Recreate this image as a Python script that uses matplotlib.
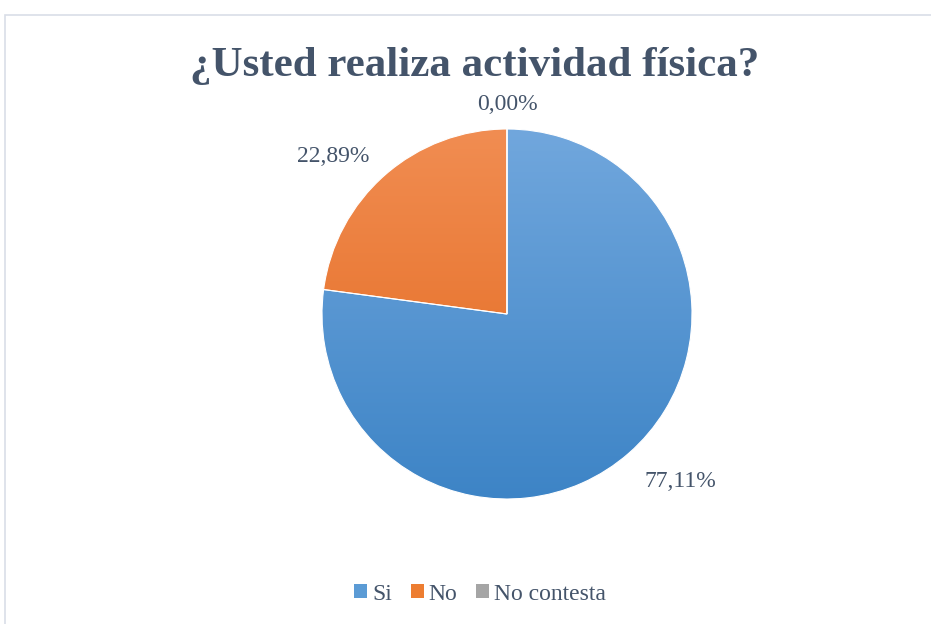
import numpy as np
import matplotlib
matplotlib.use("Agg")
import matplotlib.pyplot as plt
from matplotlib.colors import LinearSegmentedColormap
from matplotlib.patches import Patch, Rectangle

plt.rcParams['font.family'] = ['Liberation Serif', 'DejaVu Serif']

categories = ["Si", "No", "No contesta"]
percentages = [77.11, 22.89, 0.00]

# light (top) -> dark (bottom) shades for each slice, plus a flat legend colour
top_colors = ["#71A7DD", "#F18D52", "#B4B4B4"]
bottom_colors = ["#3D84C6", "#E2661A", "#959595"]
legend_colors = ["#5B9BD5", "#ED7D31", "#A5A5A5"]
text_color = "#44546A"

W, H = 931, 624
fig = plt.figure(figsize=(W / 100, H / 100), dpi=100)
fig.patch.set_facecolor("white")

# chart area frame (runs off the right and bottom edges)
fig.patches.append(Rectangle((5 / W, -0.1), 2, (H - 15) / H + 0.1,
                             transform=fig.transFigure, fill=False,
                             edgecolor="#D9DEE7", linewidth=1.2))

fig.text(475 / W, 1 - 66 / H, "¿Usted realiza actividad física?",
         ha="center", va="center", fontsize=31, fontweight="bold",
         color=text_color)

# pie centred at (507, 314) px, radius 185 px
cx, cy, r = 507, 314, 185
half = 200
ax = fig.add_axes([(cx - half) / W, (H - cy - half) / H, 2 * half / W, 2 * half / H])

wedges, _ = ax.pie(percentages, startangle=90, counterclock=False, radius=1,
                   colors=legend_colors,
                   wedgeprops=dict(edgecolor="white", linewidth=0.8))

grad = np.linspace(0, 1, 256).reshape(-1, 1)
for w, c0, c1 in zip(wedges, top_colors, bottom_colors):
    cmap = LinearSegmentedColormap.from_list("g", [c0, c1])
    img = ax.imshow(grad, cmap=cmap, extent=[-1, 1, -1, 1], origin="upper",
                    aspect="auto", zorder=1, interpolation="bilinear")
    img.set_clip_path(w)
    w.set_facecolor("none")
    w.set_zorder(2)

# percentage labels just outside each slice
for w, p in zip(wedges, percentages):
    mid = np.deg2rad((w.theta1 + w.theta2) / 2)
    x, y = 1.13 * np.cos(mid), 1.13 * np.sin(mid)
    ha = "center" if abs(np.cos(mid)) < 0.1 else ("left" if x > 0 else "right")
    va = "top" if np.sin(mid) < -0.1 else "center"
    ax.text(x, y, f"{p:.2f}%".replace(".", ","), ha=ha, va=va,
            fontsize=17, color=text_color)

# pie() and imshow() reset the limits, so fix them last
ax.set_xlim(-half / r, half / r)
ax.set_ylim(-half / r, half / r)
ax.set_aspect("equal")
ax.axis("off")

handles = [Patch(facecolor=c, edgecolor="none") for c in legend_colors]
fig.legend(handles, categories, loc="center", bbox_to_anchor=(480 / W, 1 - 594 / H),
           ncol=3, frameon=False, fontsize=17, handlelength=0.55, handleheight=0.55,
           handletextpad=0.2, columnspacing=0.8, labelcolor=text_color)

fig.savefig("out.png", dpi=100)
